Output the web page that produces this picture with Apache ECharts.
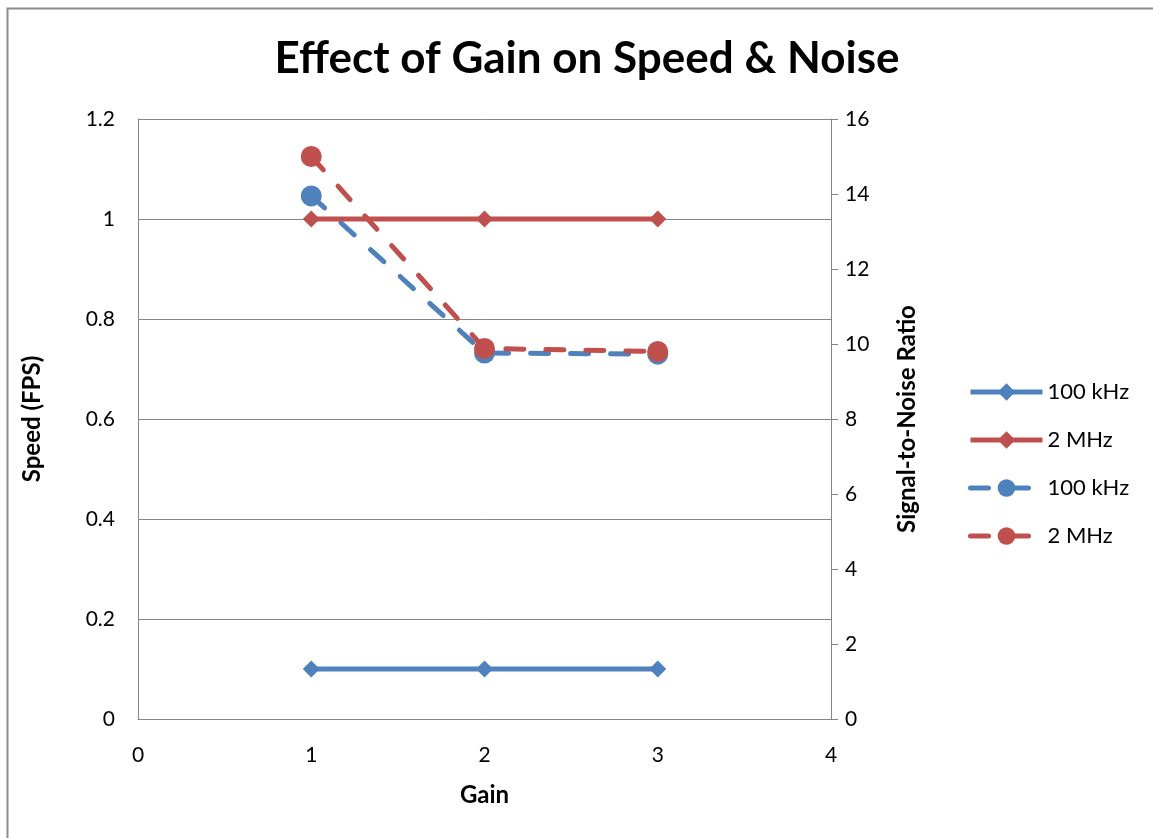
<!DOCTYPE html>
<html>
<head>
<meta charset="utf-8">
<script src="https://cdn.jsdelivr.net/npm/echarts@6/dist/echarts.min.js"></script>
<style>html,body{margin:0;padding:0;background:#fff}#c{width:1153px;height:838px}</style>
</head>
<body>
<div id="c"></div>
<script>
var gains = [1, 2, 3];
var speed100k = [0.1, 0.1, 0.1];
var speed2M = [1.0, 1.0, 1.0];
var snr100k = [13.95, 9.76, 9.73];
var snr2M = [15.0, 9.88, 9.8];
var xTicks = [0, 1, 2, 3, 4];
var leftTicks = [0, 0.2, 0.4, 0.6, 0.8, 1.0, 1.2];
var rightTicks = [0, 2, 4, 6, 8, 10, 12, 14, 16];

var BLUE = '#4F81BD', RED = '#C0504D', GRID = '#868686';
var FONT = 'Lato';
function pairs(xs, ys) { return xs.map(function (x, i) { return [x, ys[i]]; }); }

var chart = echarts.init(document.getElementById('c'));
chart.setOption({
  animation: false,
  backgroundColor: '#fff',
  graphic: [{
    type: 'rect', left: 5, top: 6, shape: { width: 1160, height: 850 },
    style: { fill: 'none', stroke: '#8c8c8c', lineWidth: 2 }, silent: true, z: -10
  }],
  title: {
    text: 'Effect of Gain on Speed & Noise',
    left: 582, top: 32, textAlign: 'center',
    textStyle: { fontFamily: FONT, fontWeight: 'bold', fontSize: 44, color: '#000' }
  },
  grid: { left: 138, right: 322, top: 119, bottom: 119, containLabel: false },
  legend: {
    orient: 'vertical', left: 968, top: 381, padding: 0,
    itemWidth: 72, itemHeight: 22, itemGap: 26,
    lineStyle: { width: 5 },
    textStyle: { fontFamily: FONT, fontSize: 22, color: '#000', lineHeight: 22 },
    formatter: function (n) { return n.trim(); },
    data: ['100 kHz', '2 MHz', '100 kHz ', '2 MHz ']
  },
  xAxis: {
    type: 'value', min: xTicks[0], max: xTicks[xTicks.length - 1], interval: 1,
    name: 'Gain', nameLocation: 'middle', nameGap: 64,
    nameTextStyle: { fontFamily: FONT, fontWeight: 'bold', fontSize: 24, color: '#000' },
    axisLine: { show: true, onZero: false, lineStyle: { color: GRID, width: 1 } },
    axisTick: { show: false },
    splitLine: { show: false },
    axisLabel: { fontFamily: FONT, fontSize: 21, color: '#000', margin: 26 }
  },
  yAxis: [{
    type: 'value', min: leftTicks[0], max: leftTicks[leftTicks.length - 1], interval: 0.2,
    name: 'Speed (FPS)', nameLocation: 'middle', nameGap: 94,
    nameTextStyle: { fontFamily: FONT, fontWeight: 'bold', fontSize: 24, color: '#000' },
    axisLine: { show: true, lineStyle: { color: GRID, width: 1 } },
    axisTick: { show: false },
    splitLine: { show: true, lineStyle: { color: GRID, width: 1 } },
    axisLabel: { fontFamily: FONT, fontSize: 21, color: '#000', margin: 23,
      formatter: function (v) { return String(Math.round(v * 10) / 10); } }
  }, {
    type: 'value', position: 'right', min: rightTicks[0], max: rightTicks[rightTicks.length - 1], interval: 2,
    name: 'Signal-to-Noise Ratio', nameLocation: 'middle', nameGap: 64,
    nameTextStyle: { fontFamily: FONT, fontWeight: 'bold', fontSize: 24, color: '#000' },
    axisLine: { show: true, lineStyle: { color: GRID, width: 1 } },
    axisTick: { show: true, inside: false, length: 7, lineStyle: { color: GRID } },
    splitLine: { show: false },
    axisLabel: { fontFamily: FONT, fontSize: 21, color: '#000', margin: 14 }
  }],
  series: [{
    name: '100 kHz', type: 'line', yAxisIndex: 0, data: pairs(gains, speed100k),
    symbol: 'diamond', symbolSize: 17,
    lineStyle: { color: BLUE, width: 5 }, itemStyle: { color: BLUE }, z: 2
  }, {
    name: '2 MHz', type: 'line', yAxisIndex: 0, data: pairs(gains, speed2M),
    symbol: 'diamond', symbolSize: 17,
    lineStyle: { color: RED, width: 5 }, itemStyle: { color: RED }, z: 4
  }, {
    name: '100 kHz ', type: 'line', yAxisIndex: 1, data: pairs(gains, snr100k),
    symbol: 'circle', symbolSize: 21,
    lineStyle: { color: BLUE, width: 5, type: [18, 22], cap: 'round' }, itemStyle: { color: BLUE }, z: 3
  }, {
    name: '2 MHz ', type: 'line', yAxisIndex: 1, data: pairs(gains, snr2M),
    symbol: 'circle', symbolSize: 21,
    lineStyle: { color: RED, width: 5, type: [18, 22], cap: 'round' }, itemStyle: { color: RED }, z: 5
  }]
});
</script>
</body>
</html>
